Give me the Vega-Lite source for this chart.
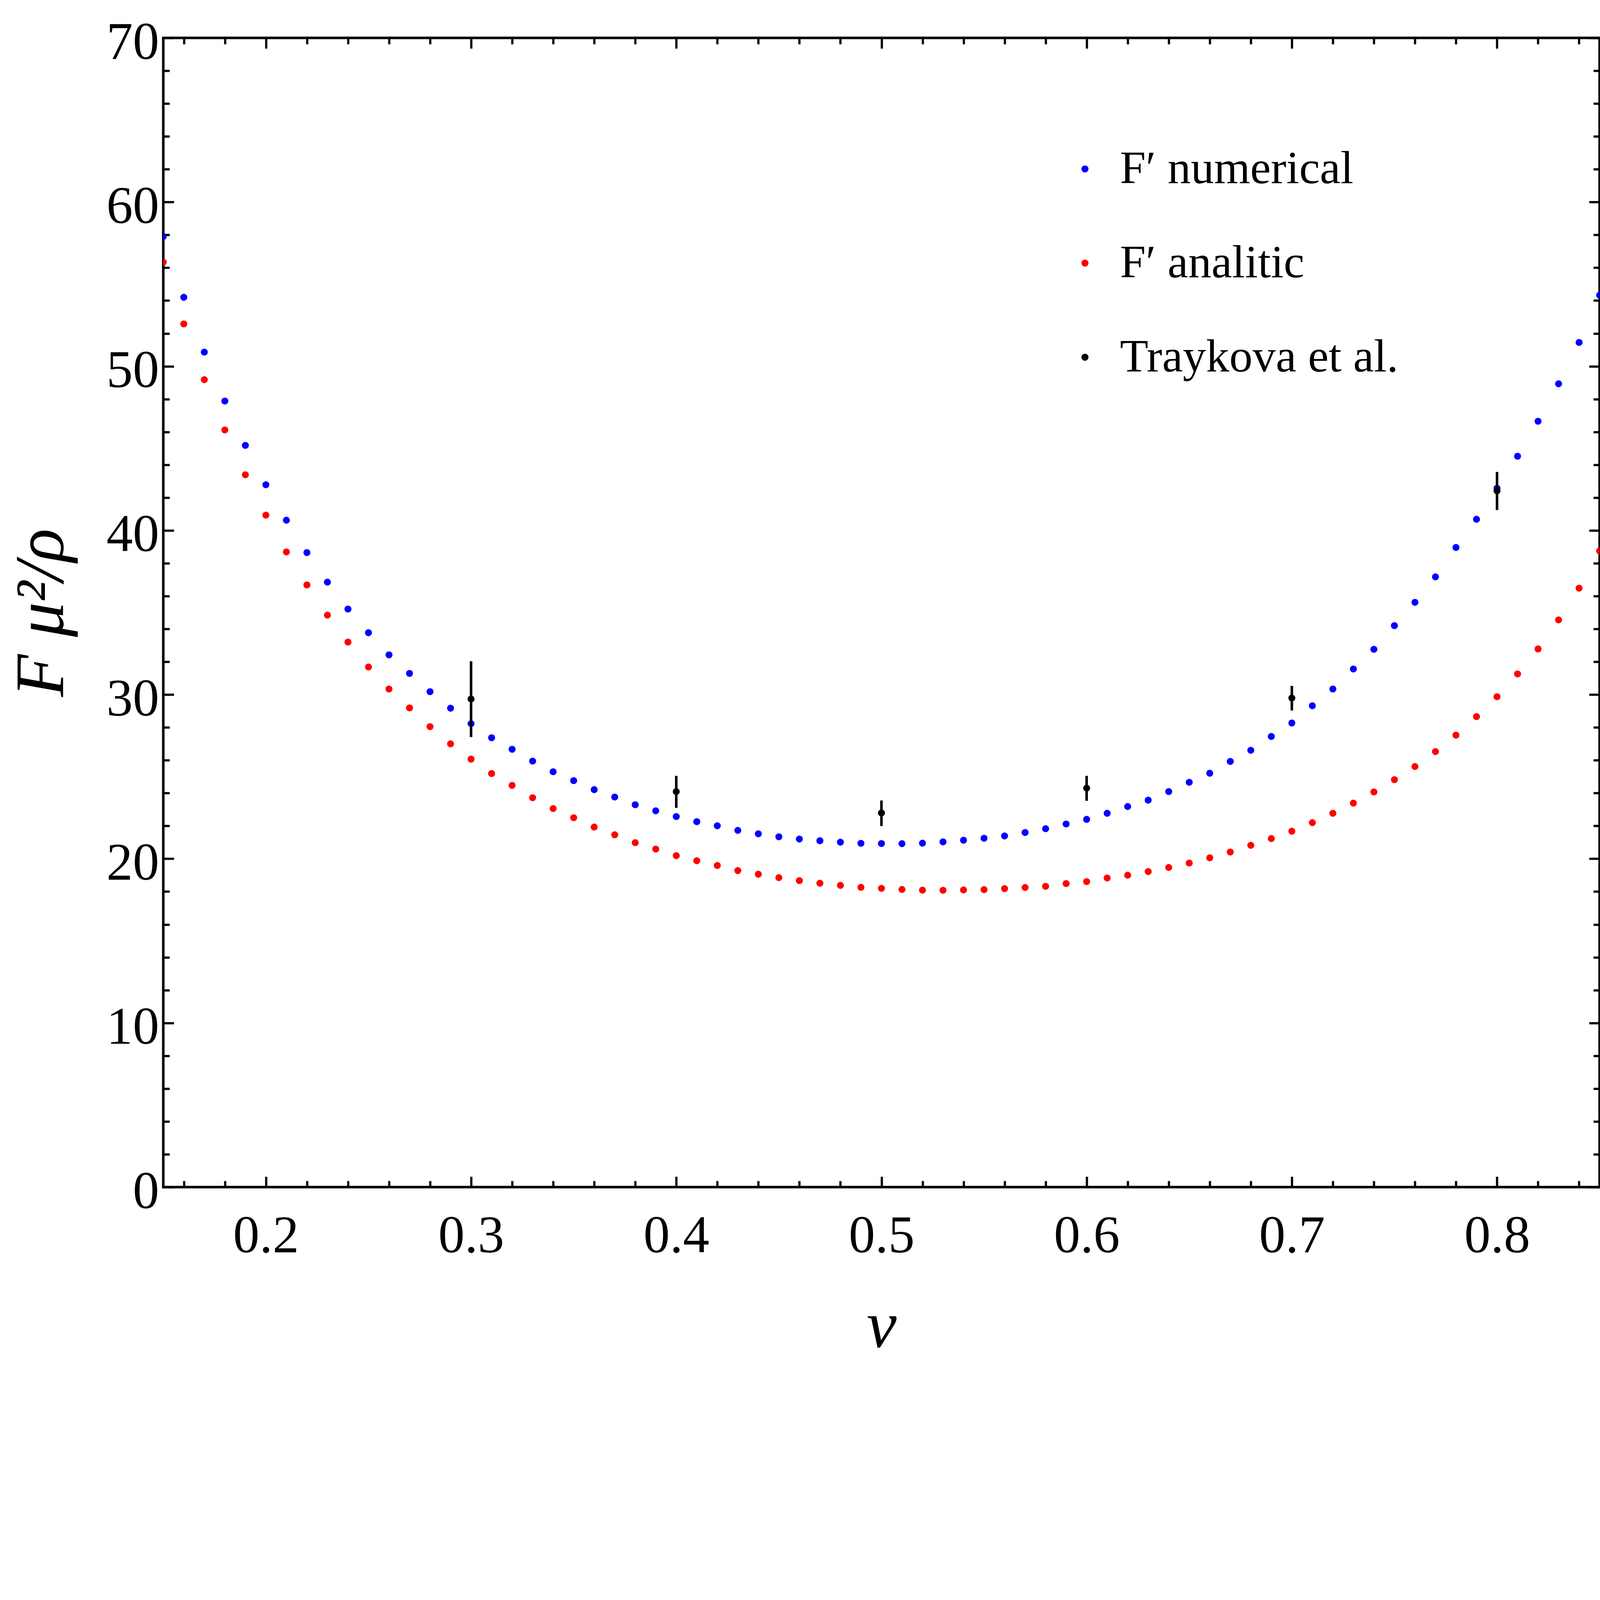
{
  "$schema": "https://vega.github.io/schema/vega-lite/v6.json",
  "autosize": {"type": "none"},
  "width": 3677,
  "height": 2942,
  "padding": {"left": 418, "top": 97, "right": 5, "bottom": 476},
  "background": "white",
  "config": {
    "view": {"stroke": "black", "strokeWidth": 6.5},
    "axis": {
      "domain": false, "grid": false,
      "labelFont": "Liberation Serif", "labelFontSize": 135, "labelColor": "black", "labelLimit": 0,
      "tickColor": "black", "tickWidth": 5.7,
      "titleFont": "Liberation Serif", "titleColor": "black", "titleFontWeight": "normal", "titleLimit": 0,
      "labelFlush": false, "labelOverlap": false
    },
    "legend": {
      "orient": "none", "legendX": 2300, "legendY": 276,
      "symbolType": "circle", "symbolSize": 329, "symbolStrokeWidth": 0, "symbolOpacity": 1,
      "labelFont": "Liberation Serif", "labelFontSize": 119, "labelColor": "black",
      "labelOffset": 30, "rowPadding": 121, "padding": 0, "labelLimit": 0
    }
  },
  "datasets": {
    "numerical": [
      {"v": 0.15, "F": 57.9, "series": "F′ numerical"},
      {"v": 0.16, "F": 54.2, "series": "F′ numerical"},
      {"v": 0.17, "F": 50.86, "series": "F′ numerical"},
      {"v": 0.18, "F": 47.88, "series": "F′ numerical"},
      {"v": 0.19, "F": 45.18, "series": "F′ numerical"},
      {"v": 0.20, "F": 42.78, "series": "F′ numerical"},
      {"v": 0.21, "F": 40.62, "series": "F′ numerical"},
      {"v": 0.22, "F": 38.65, "series": "F′ numerical"},
      {"v": 0.23, "F": 36.85, "series": "F′ numerical"},
      {"v": 0.24, "F": 35.21, "series": "F′ numerical"},
      {"v": 0.25, "F": 33.77, "series": "F′ numerical"},
      {"v": 0.26, "F": 32.42, "series": "F′ numerical"},
      {"v": 0.27, "F": 31.29, "series": "F′ numerical"},
      {"v": 0.28, "F": 30.18, "series": "F′ numerical"},
      {"v": 0.29, "F": 29.17, "series": "F′ numerical"},
      {"v": 0.30, "F": 28.23, "series": "F′ numerical"},
      {"v": 0.31, "F": 27.37, "series": "F′ numerical"},
      {"v": 0.32, "F": 26.67, "series": "F′ numerical"},
      {"v": 0.33, "F": 25.95, "series": "F′ numerical"},
      {"v": 0.34, "F": 25.3, "series": "F′ numerical"},
      {"v": 0.35, "F": 24.76, "series": "F′ numerical"},
      {"v": 0.36, "F": 24.21, "series": "F′ numerical"},
      {"v": 0.37, "F": 23.76, "series": "F′ numerical"},
      {"v": 0.38, "F": 23.29, "series": "F′ numerical"},
      {"v": 0.39, "F": 22.92, "series": "F′ numerical"},
      {"v": 0.40, "F": 22.57, "series": "F′ numerical"},
      {"v": 0.41, "F": 22.26, "series": "F′ numerical"},
      {"v": 0.42, "F": 22.01, "series": "F′ numerical"},
      {"v": 0.43, "F": 21.73, "series": "F′ numerical"},
      {"v": 0.44, "F": 21.52, "series": "F′ numerical"},
      {"v": 0.45, "F": 21.34, "series": "F′ numerical"},
      {"v": 0.46, "F": 21.2, "series": "F′ numerical"},
      {"v": 0.47, "F": 21.1, "series": "F′ numerical"},
      {"v": 0.48, "F": 21.01, "series": "F′ numerical"},
      {"v": 0.49, "F": 20.94, "series": "F′ numerical"},
      {"v": 0.50, "F": 20.93, "series": "F′ numerical"},
      {"v": 0.51, "F": 20.92, "series": "F′ numerical"},
      {"v": 0.52, "F": 20.95, "series": "F′ numerical"},
      {"v": 0.53, "F": 21.03, "series": "F′ numerical"},
      {"v": 0.54, "F": 21.13, "series": "F′ numerical"},
      {"v": 0.55, "F": 21.25, "series": "F′ numerical"},
      {"v": 0.56, "F": 21.39, "series": "F′ numerical"},
      {"v": 0.57, "F": 21.6, "series": "F′ numerical"},
      {"v": 0.58, "F": 21.83, "series": "F′ numerical"},
      {"v": 0.59, "F": 22.12, "series": "F′ numerical"},
      {"v": 0.60, "F": 22.4, "series": "F′ numerical"},
      {"v": 0.61, "F": 22.77, "series": "F′ numerical"},
      {"v": 0.62, "F": 23.18, "series": "F′ numerical"},
      {"v": 0.63, "F": 23.57, "series": "F′ numerical"},
      {"v": 0.64, "F": 24.09, "series": "F′ numerical"},
      {"v": 0.65, "F": 24.66, "series": "F′ numerical"},
      {"v": 0.66, "F": 25.21, "series": "F′ numerical"},
      {"v": 0.67, "F": 25.93, "series": "F′ numerical"},
      {"v": 0.68, "F": 26.61, "series": "F′ numerical"},
      {"v": 0.69, "F": 27.45, "series": "F′ numerical"},
      {"v": 0.70, "F": 28.27, "series": "F′ numerical"},
      {"v": 0.71, "F": 29.32, "series": "F′ numerical"},
      {"v": 0.72, "F": 30.34, "series": "F′ numerical"},
      {"v": 0.73, "F": 31.56, "series": "F′ numerical"},
      {"v": 0.74, "F": 32.76, "series": "F′ numerical"},
      {"v": 0.75, "F": 34.2, "series": "F′ numerical"},
      {"v": 0.76, "F": 35.62, "series": "F′ numerical"},
      {"v": 0.77, "F": 37.17, "series": "F′ numerical"},
      {"v": 0.78, "F": 38.96, "series": "F′ numerical"},
      {"v": 0.79, "F": 40.68, "series": "F′ numerical"},
      {"v": 0.80, "F": 42.57, "series": "F′ numerical"},
      {"v": 0.81, "F": 44.52, "series": "F′ numerical"},
      {"v": 0.82, "F": 46.65, "series": "F′ numerical"},
      {"v": 0.83, "F": 48.93, "series": "F′ numerical"},
      {"v": 0.84, "F": 51.45, "series": "F′ numerical"},
      {"v": 0.85, "F": 54.33, "series": "F′ numerical"}
    ],
    "analitic": [
      {"v": 0.15, "F": 56.34, "series": "F′ analitic"},
      {"v": 0.16, "F": 52.58, "series": "F′ analitic"},
      {"v": 0.17, "F": 49.18, "series": "F′ analitic"},
      {"v": 0.18, "F": 46.12, "series": "F′ analitic"},
      {"v": 0.19, "F": 43.39, "series": "F′ analitic"},
      {"v": 0.20, "F": 40.93, "series": "F′ analitic"},
      {"v": 0.21, "F": 38.69, "series": "F′ analitic"},
      {"v": 0.22, "F": 36.68, "series": "F′ analitic"},
      {"v": 0.23, "F": 34.84, "series": "F′ analitic"},
      {"v": 0.24, "F": 33.2, "series": "F′ analitic"},
      {"v": 0.25, "F": 31.68, "series": "F′ analitic"},
      {"v": 0.26, "F": 30.34, "series": "F′ analitic"},
      {"v": 0.27, "F": 29.19, "series": "F′ analitic"},
      {"v": 0.28, "F": 28.05, "series": "F′ analitic"},
      {"v": 0.29, "F": 27.0, "series": "F′ analitic"},
      {"v": 0.30, "F": 26.07, "series": "F′ analitic"},
      {"v": 0.31, "F": 25.19, "series": "F′ analitic"},
      {"v": 0.32, "F": 24.47, "series": "F′ analitic"},
      {"v": 0.33, "F": 23.72, "series": "F′ analitic"},
      {"v": 0.34, "F": 23.06, "series": "F′ analitic"},
      {"v": 0.35, "F": 22.5, "series": "F′ analitic"},
      {"v": 0.36, "F": 21.93, "series": "F′ analitic"},
      {"v": 0.37, "F": 21.46, "series": "F′ analitic"},
      {"v": 0.38, "F": 20.98, "series": "F′ analitic"},
      {"v": 0.39, "F": 20.59, "series": "F′ analitic"},
      {"v": 0.40, "F": 20.19, "series": "F′ analitic"},
      {"v": 0.41, "F": 19.88, "series": "F′ analitic"},
      {"v": 0.42, "F": 19.59, "series": "F′ analitic"},
      {"v": 0.43, "F": 19.28, "series": "F′ analitic"},
      {"v": 0.44, "F": 19.06, "series": "F′ analitic"},
      {"v": 0.45, "F": 18.85, "series": "F′ analitic"},
      {"v": 0.46, "F": 18.67, "series": "F′ analitic"},
      {"v": 0.47, "F": 18.51, "series": "F′ analitic"},
      {"v": 0.48, "F": 18.38, "series": "F′ analitic"},
      {"v": 0.49, "F": 18.26, "series": "F′ analitic"},
      {"v": 0.50, "F": 18.2, "series": "F′ analitic"},
      {"v": 0.51, "F": 18.13, "series": "F′ analitic"},
      {"v": 0.52, "F": 18.09, "series": "F′ analitic"},
      {"v": 0.53, "F": 18.08, "series": "F′ analitic"},
      {"v": 0.54, "F": 18.1, "series": "F′ analitic"},
      {"v": 0.55, "F": 18.12, "series": "F′ analitic"},
      {"v": 0.56, "F": 18.18, "series": "F′ analitic"},
      {"v": 0.57, "F": 18.25, "series": "F′ analitic"},
      {"v": 0.58, "F": 18.32, "series": "F′ analitic"},
      {"v": 0.59, "F": 18.49, "series": "F′ analitic"},
      {"v": 0.60, "F": 18.61, "series": "F′ analitic"},
      {"v": 0.61, "F": 18.83, "series": "F′ analitic"},
      {"v": 0.62, "F": 19.0, "series": "F′ analitic"},
      {"v": 0.63, "F": 19.22, "series": "F′ analitic"},
      {"v": 0.64, "F": 19.47, "series": "F′ analitic"},
      {"v": 0.65, "F": 19.74, "series": "F′ analitic"},
      {"v": 0.66, "F": 20.06, "series": "F′ analitic"},
      {"v": 0.67, "F": 20.41, "series": "F′ analitic"},
      {"v": 0.68, "F": 20.82, "series": "F′ analitic"},
      {"v": 0.69, "F": 21.23, "series": "F′ analitic"},
      {"v": 0.70, "F": 21.68, "series": "F′ analitic"},
      {"v": 0.71, "F": 22.2, "series": "F′ analitic"},
      {"v": 0.72, "F": 22.77, "series": "F′ analitic"},
      {"v": 0.73, "F": 23.39, "series": "F′ analitic"},
      {"v": 0.74, "F": 24.07, "series": "F′ analitic"},
      {"v": 0.75, "F": 24.82, "series": "F′ analitic"},
      {"v": 0.76, "F": 25.62, "series": "F′ analitic"},
      {"v": 0.77, "F": 26.53, "series": "F′ analitic"},
      {"v": 0.78, "F": 27.53, "series": "F′ analitic"},
      {"v": 0.79, "F": 28.66, "series": "F′ analitic"},
      {"v": 0.80, "F": 29.87, "series": "F′ analitic"},
      {"v": 0.81, "F": 31.26, "series": "F′ analitic"},
      {"v": 0.82, "F": 32.78, "series": "F′ analitic"},
      {"v": 0.83, "F": 34.55, "series": "F′ analitic"},
      {"v": 0.84, "F": 36.48, "series": "F′ analitic"},
      {"v": 0.85, "F": 38.75, "series": "F′ analitic"}
    ],
    "traykova": [
      {"v": 0.3, "F": 29.73, "lo": 27.41, "hi": 32.03, "series": "Traykova et al."},
      {"v": 0.4, "F": 24.09, "lo": 23.1, "hi": 25.05, "series": "Traykova et al."},
      {"v": 0.5, "F": 22.79, "lo": 21.99, "hi": 23.55, "series": "Traykova et al."},
      {"v": 0.6, "F": 24.3, "lo": 23.53, "hi": 25.05, "series": "Traykova et al."},
      {"v": 0.7, "F": 29.79, "lo": 29.03, "hi": 30.53, "series": "Traykova et al."},
      {"v": 0.8, "F": 42.41, "lo": 41.24, "hi": 43.56, "series": "Traykova et al."}
    ]
  },
  "resolve": {"axis": {"x": "independent", "y": "independent"}},
  "layer": [
    {
      "data": {"name": "numerical"},
      "mark": {"type": "circle", "size": 320, "opacity": 1, "clip": true},
      "encoding": {
        "x": {"field": "v", "type": "quantitative",
          "scale": {"domain": [0.15, 0.85], "nice": false, "zero": false},
          "axis": {"orient": "bottom", "values": [0.2, 0.3, 0.4, 0.5, 0.6, 0.7, 0.8], "format": ".1f",
            "tickSize": -27, "labelPadding": 193, "labelBaseline": "alphabetic",
            "title": "v", "titleFontSize": 172, "titleFontStyle": "italic",
            "titleBaseline": "alphabetic", "titleY": 408}},
        "y": {"field": "F", "type": "quantitative",
          "scale": {"domain": [0, 70], "nice": false, "zero": false},
          "axis": {"orient": "left", "values": [0, 10, 20, 30, 40, 50, 60, 70], "format": "d",
            "tickSize": -27, "labelPadding": 38, "labelAlign": "right", "labelBaseline": "alphabetic", "labelOffset": 53,
            "title": "F μ²/ρ", "titleFontSize": 178, "titleFontStyle": "italic", "titleAngle": -90,
            "titleBaseline": "alphabetic", "titleAlign": "center", "titleX": -258, "titleY": 1471}},
        "color": {"field": "series", "type": "nominal",
          "scale": {"domain": ["F′ numerical", "F′ analitic", "Traykova et al."], "range": ["#0000ff", "#ff0000", "#000000"]},
          "legend": {"title": null}}
      }
    },
    {
      "data": {"name": "analitic"},
      "mark": {"type": "circle", "size": 320, "opacity": 1, "clip": true},
      "encoding": {
        "x": {"field": "v", "type": "quantitative",
          "scale": {"domain": [0.15, 0.85], "nice": false, "zero": false},
          "axis": {"orient": "bottom", "values": [0.16, 0.18, 0.22, 0.24, 0.26, 0.28, 0.32, 0.34, 0.36, 0.38, 0.42, 0.44, 0.46, 0.48, 0.52, 0.54, 0.56, 0.58, 0.62, 0.64, 0.66, 0.68, 0.72, 0.74, 0.76, 0.78, 0.82, 0.84],
            "tickSize": -16, "labels": false, "title": null}},
        "y": {"field": "F", "type": "quantitative",
          "scale": {"domain": [0, 70], "nice": false, "zero": false},
          "axis": {"orient": "left", "values": [2, 4, 6, 8, 12, 14, 16, 18, 22, 24, 26, 28, 32, 34, 36, 38, 42, 44, 46, 48, 52, 54, 56, 58, 62, 64, 66, 68],
            "tickSize": -16, "labels": false, "title": null}},
        "color": {"field": "series", "type": "nominal",
          "scale": {"domain": ["F′ numerical", "F′ analitic", "Traykova et al."], "range": ["#0000ff", "#ff0000", "#000000"]},
          "legend": {"title": null}}
      }
    },
    {
      "data": {"name": "traykova"},
      "mark": {"type": "rule", "strokeWidth": 6.5, "color": "black"},
      "encoding": {
        "x": {"field": "v", "type": "quantitative",
          "scale": {"domain": [0.15, 0.85], "nice": false, "zero": false},
          "axis": {"orient": "top", "values": [0.16, 0.18, 0.22, 0.24, 0.26, 0.28, 0.32, 0.34, 0.36, 0.38, 0.42, 0.44, 0.46, 0.48, 0.52, 0.54, 0.56, 0.58, 0.62, 0.64, 0.66, 0.68, 0.72, 0.74, 0.76, 0.78, 0.82, 0.84],
            "tickSize": -16, "labels": false, "title": null}},
        "y": {"field": "lo", "type": "quantitative",
          "scale": {"domain": [0, 70], "nice": false, "zero": false},
          "axis": {"orient": "right", "values": [2, 4, 6, 8, 12, 14, 16, 18, 22, 24, 26, 28, 32, 34, 36, 38, 42, 44, 46, 48, 52, 54, 56, 58, 62, 64, 66, 68],
            "tickSize": -16, "labels": false, "title": null}},
        "y2": {"field": "hi"}
      }
    },
    {
      "data": {"name": "traykova"},
      "mark": {"type": "circle", "size": 320, "opacity": 1, "clip": true},
      "encoding": {
        "x": {"field": "v", "type": "quantitative",
          "scale": {"domain": [0.15, 0.85], "nice": false, "zero": false},
          "axis": {"orient": "top", "values": [0.2, 0.3, 0.4, 0.5, 0.6, 0.7, 0.8],
            "tickSize": -27, "labels": false, "title": null}},
        "y": {"field": "F", "type": "quantitative",
          "scale": {"domain": [0, 70], "nice": false, "zero": false},
          "axis": {"orient": "right", "values": [0, 10, 20, 30, 40, 50, 60, 70],
            "tickSize": -27, "labels": false, "title": null}},
        "color": {"field": "series", "type": "nominal",
          "scale": {"domain": ["F′ numerical", "F′ analitic", "Traykova et al."], "range": ["#0000ff", "#ff0000", "#000000"]},
          "legend": {"title": null}}
      }
    }
  ]
}
